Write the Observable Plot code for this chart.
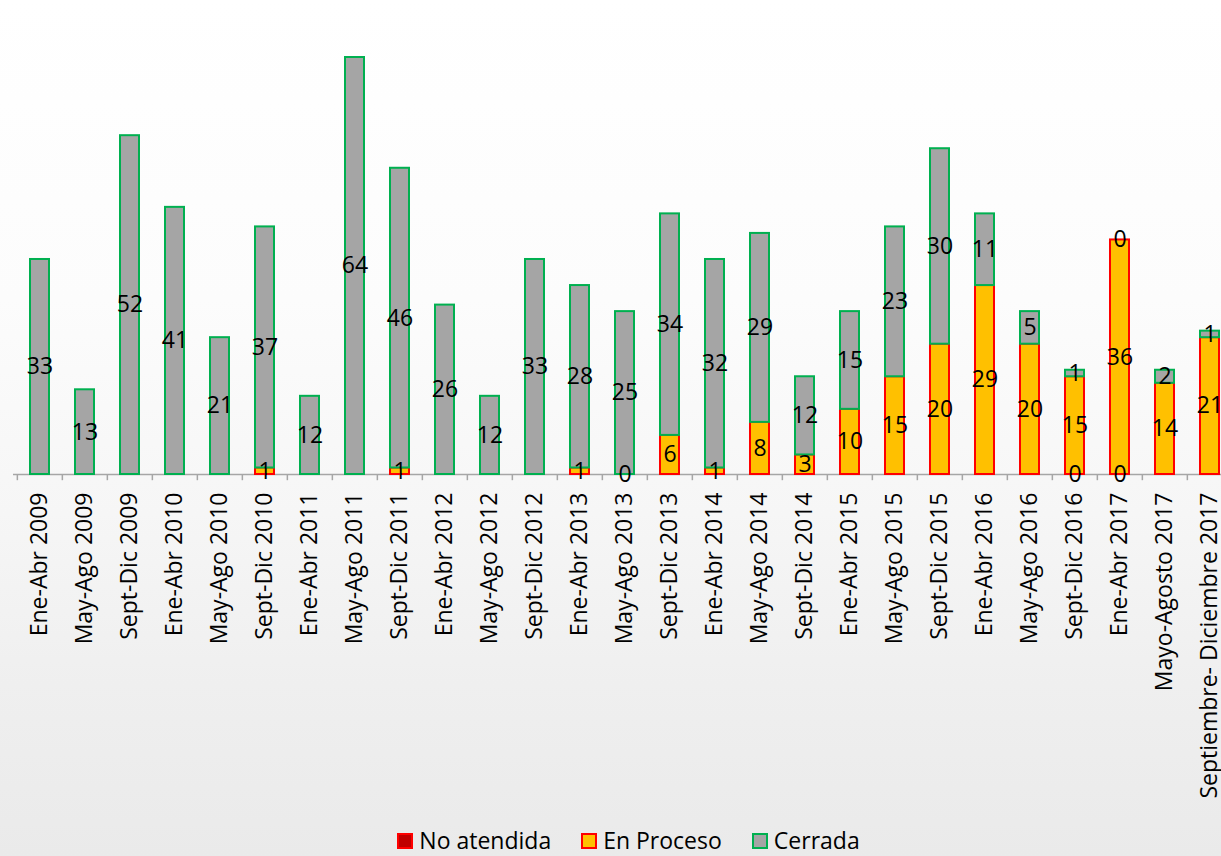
<!DOCTYPE html>
<html>
<head>
<meta charset="utf-8">
<script src="https://cdn.jsdelivr.net/npm/d3@7"></script>
<script src="https://cdn.jsdelivr.net/npm/@observablehq/plot@0.6"></script>
<style>
html, body { margin: 0; padding: 0; width: 1221px; height: 856px; overflow: hidden; }
body {
  background: linear-gradient(180deg, #ffffff 0%, #fcfcfc 35%, #f6f6f6 60%, #efefef 80%, #eaeaea 100%);
  font-family: "Open Sans", Lato, sans-serif;
}
#chart svg { display: block; }
#legend {
  display: flex; justify-content: center; align-items: center;
  width: 1221px; height: 26px; margin-top: 7px; padding-left: 36px; box-sizing: border-box;
  font-size: 23px; line-height: 24px; color: #000;
}
.item { display: flex; align-items: center; margin: 0 15px; }
.sw { width: 12px; height: 12px; border: 2px solid; margin-right: 6px; margin-top: 2px; }
</style>
</head>
<body>
<div id="chart"></div>
<div id="legend"></div>
<script>
const categories = [
  "Ene-Abr 2009", "May-Ago 2009", "Sept-Dic 2009",
  "Ene-Abr 2010", "May-Ago 2010", "Sept-Dic 2010",
  "Ene-Abr 2011", "May-Ago 2011", "Sept-Dic 2011",
  "Ene-Abr 2012", "May-Ago 2012", "Sept-Dic 2012",
  "Ene-Abr 2013", "May-Ago 2013", "Sept-Dic 2013",
  "Ene-Abr 2014", "May-Ago 2014", "Sept-Dic 2014",
  "Ene-Abr 2015", "May-Ago 2015", "Sept-Dic 2015",
  "Ene-Abr 2016", "May-Ago 2016", "Sept-Dic 2016",
  "Ene-Abr 2017", "Mayo-Agosto 2017", "Septiembre- Diciembre 2017"
];
const noAtendida = [null, null, null, null, null, null, null, null, null, null, null, null, null, null, null, null, null, null, null, null, null, null, null, 0, 0, null, null];
const enProceso  = [null, null, null, null, null, 1, null, null, 1, null, null, null, 1, 0, 6, 1, 8, 3, 10, 15, 20, 29, 20, 15, 36, 14, 21];
const cerrada    = [33, 13, 52, 41, 21, 37, 12, 64, 46, 26, 12, 33, 28, 25, 34, 32, 29, 12, 15, 23, 30, 11, 5, 1, 0, 2, 1];

const series = ["No atendida", "En Proceso", "Cerrada"];
const fills = ["#C00000", "#FFC000", "#A5A5A5"];
const strokes = ["#FF0000", "#FF0000", "#00B050"];

const seriesValues = [noAtendida, enProceso, cerrada];
const rows = [];
categories.forEach((c, i) => {
  seriesValues.forEach((arr, j) => {
    if (arr[i] !== null) rows.push({cat: c, series: series[j], value: arr[i]});
  });
});
const fillOf = d => fills[series.indexOf(d.series)];
const strokeOf = d => strokes[series.indexOf(d.series)];

const band = 45.3;
const x0 = 12.7;
const inner = 0.58;
const font = "'Open Sans', Lato, sans-serif";

const chart = Plot.plot({
  width: 1221,
  height: 820,
  marginTop: 57,
  marginBottom: 346,
  marginLeft: 13,
  marginRight: 0,
  style: {background: "transparent", overflow: "visible", fontFamily: font},
  x: {domain: categories, range: [x0, x0 + band * categories.length], paddingInner: inner, paddingOuter: inner / 2, axis: null},
  y: {domain: [0, 64], axis: null},
  marks: [
    Plot.ruleY([0], {stroke: "#a6a6a6", strokeWidth: 1.5}),
    Plot.ruleX(categories, {x: d => d, y1: 0, y2: -0.95, dx: -band / 2, stroke: "#a6a6a6", strokeWidth: 1.5}),
    Plot.barY(rows.filter(d => d.value > 0), Plot.stackY({
      x: "cat", y: "value", z: "series", order: series,
      fill: fillOf, stroke: strokeOf, strokeWidth: 2
    })),
    Plot.text(rows, Plot.stackY({
      x: "cat", y: "value", z: "series", order: series,
      text: d => String(d.value), fontSize: 23, fill: "#000"
    })),
    Plot.text(categories, {
      x: d => d, y: 0, dy: 18, rotate: -90, textAnchor: "end", lineAnchor: "middle",
      text: d => d, fontSize: 23, fill: "#000"
    })
  ]
});
document.getElementById("chart").append(chart);

const legend = document.getElementById("legend");
series.forEach((s, j) => {
  const item = document.createElement("div");
  item.className = "item";
  const sw = document.createElement("span");
  sw.className = "sw";
  sw.style.background = fills[j];
  sw.style.borderColor = strokes[j];
  const t = document.createElement("span");
  t.textContent = s;
  item.append(sw, t);
  legend.append(item);
});
</script>
</body>
</html>
